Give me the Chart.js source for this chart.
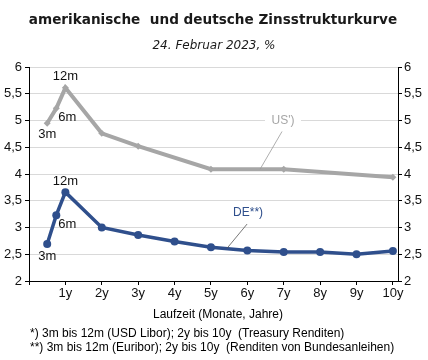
<!DOCTYPE html>
<html>
<head>
<meta charset="utf-8">
<script src="https://cdn.jsdelivr.net/npm/chart.js@4.4.1/dist/chart.umd.min.js"></script>
<style>
    body { margin: 0; background: #fff; }
    #wrap { position: relative; width: 428px; height: 360px; overflow: hidden; }
    canvas { position: absolute; left: 0; top: 0; }
    .txt { position: absolute; white-space: pre; color: #000; }
    #title { left: 0; width: 426px; top: 11px; text-align: center; font: bold 13.6px "DejaVu Sans", Verdana, sans-serif; color: #1a1a1a; }
    #subtitle { left: 0; width: 428px; top: 38px; text-align: center; font: italic 12px "DejaVu Sans", Verdana, sans-serif; color: #1a1a1a; }
    #xtitle { left: 0; width: 436px; top: 307px; text-align: center; font: 12px "Liberation Sans", Arial, sans-serif; }
    .note { left: 30px; font: 12px "Liberation Sans", Arial, sans-serif; }
</style>
</head>
<body>
<div id="wrap">
    <canvas id="chart" width="428" height="360"></canvas>
    <div class="txt" id="title">amerikanische  und deutsche Zinsstrukturkurve</div>
    <div class="txt" id="subtitle">24. Februar 2023, %</div>
    <div class="txt" id="xtitle">Laufzeit (Monate, Jahre)</div>
    <div class="txt note" style="top:326px">*) 3m bis 12m (USD Libor); 2y bis 10y  (Treasury Renditen)</div>
    <div class="txt note" style="top:340px">**) 3m bis 12m (Euribor); 2y bis 10y  (Renditen von Bundesanleihen)</div>
</div>
<script>
// Laufzeiten in Jahren (so wie sie in der Grafik stehen), Renditen in %
const usMaturities = [0.5, 0.75, 1, 2, 3, 5, 7, 10];
const usYields = [4.95, 5.23, 5.61, 4.76, 4.52, 4.09, 4.09, 3.94];

const deMaturities = [0.5, 0.75, 1, 2, 3, 4, 5, 6, 7, 8, 9, 10];
const deYields = [2.69, 3.23, 3.66, 3.00, 2.86, 2.74, 2.63, 2.57, 2.54, 2.54, 2.50, 2.56];

const monthLabels = ['3m', '6m', '12m'];
const xTickValues = [0, 1, 2, 3, 4, 5, 6, 7, 8, 9, 10];
const yTickValues = [2, 2.5, 3, 3.5, 4, 4.5, 5, 5.5, 6];

const usColor = '#a6a6a6';
const deColor = '#2f4f8c';
const tickFont = { family: '"Liberation Sans", Arial, sans-serif', size: 13 };

function toPoints(xs, ys) {
    return xs.map((x, i) => ({ x: x, y: ys[i] }));
}

// Beschriftungen 3m / 6m / 12m und die Serien-Namen mit Linie
const labelPlugin = {
    id: 'labels',
    afterDatasetsDraw(chart) {
        const ctx = chart.ctx;
        const xs = chart.scales.x;
        const ys = chart.scales.y;
        const offsets = [[0, 11], [11, 9], [0, -11]];

        ctx.save();
        ctx.font = '13px "Liberation Sans", Arial, sans-serif';
        ctx.textAlign = 'center';
        ctx.textBaseline = 'middle';
        ctx.fillStyle = '#111';
        chart.data.datasets.forEach((ds, di) => {
            const meta = chart.getDatasetMeta(di);
            monthLabels.forEach((lbl, i) => {
                const p = meta.data[i];
                ctx.fillText(lbl, p.x + offsets[i][0], p.y + offsets[i][1] + (di === 1 && i === 0 ? 1 : 0));
            });
        });

        // US') label
        const usLx = xs.getPixelForValue(6.98), usLy = ys.getPixelForValue(5.0);
        ctx.fillStyle = '#fff';
        ctx.fillRect(usLx - 18, usLy - 8, 36, 16);
        ctx.strokeStyle = '#999';
        ctx.lineWidth = 0.8;
        ctx.beginPath();
        ctx.moveTo(usLx - 1, usLy + 11);
        ctx.lineTo(xs.getPixelForValue(6.35), ys.getPixelForValue(4.09));
        ctx.stroke();
        ctx.fillStyle = usColor;
        ctx.font = '12px "Liberation Sans", Arial, sans-serif';
        ctx.fillText("US')", usLx, usLy);

        // DE**) label
        const deLx = xs.getPixelForValue(6.02), deLy = ys.getPixelForValue(3.27);
        ctx.strokeStyle = '#555';
        ctx.beginPath();
        ctx.moveTo(deLx - 1, deLy + 11);
        ctx.lineTo(xs.getPixelForValue(5.44), ys.getPixelForValue(2.61));
        ctx.stroke();
        ctx.fillStyle = deColor;
        ctx.fillText('DE**)', deLx, deLy);
        ctx.restore();
    }
};

const ctx = document.getElementById('chart').getContext('2d');
const chart = new Chart(ctx, {
    type: 'line',
    data: {
        datasets: [{
            label: "US')",
            data: toPoints(usMaturities, usYields),
            borderColor: usColor,
            backgroundColor: usColor,
            borderWidth: 4,
            pointStyle: 'rectRot',
            pointRadius: 3.5,
            pointBorderWidth: 0,
            tension: 0
        }, {
            label: 'DE**)',
            data: toPoints(deMaturities, deYields),
            borderColor: deColor,
            backgroundColor: deColor,
            borderWidth: 3.5,
            pointStyle: 'circle',
            pointRadius: 4,
            pointBorderWidth: 0,
            tension: 0
        }]
    },
    options: {
        responsive: false,
        animation: false,
        layout: { padding: { top: 67, bottom: 59, left: 0, right: 0 } },
        plugins: {
            legend: { display: false },
            tooltip: { enabled: false }
        },
        scales: {
            x: {
                type: 'linear',
                min: 0,
                max: 10.14,
                afterBuildTicks: s => { s.ticks = xTickValues.map(v => ({ value: v })); },
                afterFit: s => { s.height = 20; },
                ticks: {
                    font: tickFont,
                    color: '#111',
                    padding: 1,
                    maxRotation: 0,
                    autoSkip: false,
                    callback: v => (v === 0 ? '' : v + 'y')
                },
                grid: { drawOnChartArea: false, tickLength: 4, tickColor: '#000' },
                border: { color: '#000', width: 1 }
            },
            y: {
                position: 'left',
                min: 2,
                max: 6,
                afterBuildTicks: s => { s.ticks = yTickValues.map(v => ({ value: v })); },
                afterFit: s => { s.width = 29; },
                ticks: {
                    font: tickFont,
                    color: '#111',
                    padding: 3,
                    callback: v => String(v).replace('.', ',')
                },
                grid: { color: '#d9d9d9', tickLength: 4, tickColor: '#000' },
                border: { color: '#000', width: 1 }
            },
            y2: {
                position: 'right',
                min: 2,
                max: 6,
                afterBuildTicks: s => { s.ticks = yTickValues.map(v => ({ value: v })); },
                afterFit: s => { s.width = 30; },
                ticks: {
                    font: tickFont,
                    color: '#111',
                    padding: 2,
                    callback: v => String(v).replace('.', ',')
                },
                grid: { drawOnChartArea: false, tickLength: 4, tickColor: '#000' },
                border: { color: '#000', width: 1 }
            }
        }
    },
    plugins: [labelPlugin]
});
</script>
</body>
</html>
